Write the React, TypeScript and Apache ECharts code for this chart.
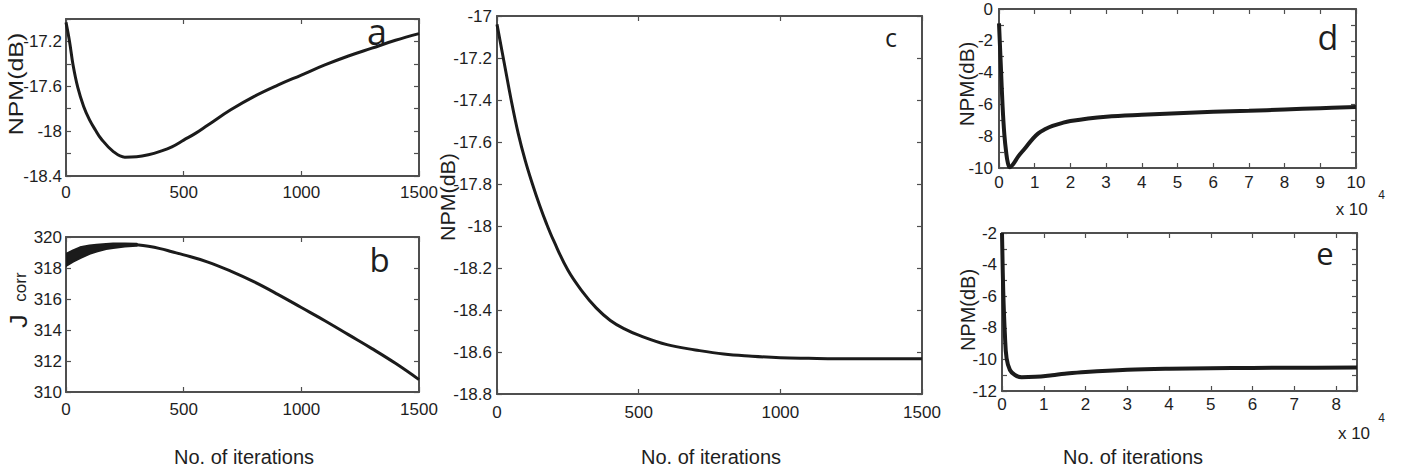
import React, { useEffect, useRef } from 'react';
import * as echarts from 'echarts';

// ---------- data ----------
// panel a : NPM(dB) vs iterations
const aX = [0, 15, 30, 50, 75, 100, 125, 150, 200, 250, 300, 350, 400, 450, 500, 550, 600, 700, 800, 900, 1000, 1100, 1200, 1300, 1400, 1500];
const aY = [-17.03, -17.2, -17.41, -17.61, -17.78, -17.9, -17.99, -18.07, -18.18, -18.232, -18.228, -18.21, -18.18, -18.14, -18.08, -18.02, -17.95, -17.81, -17.69, -17.59, -17.5, -17.41, -17.33, -17.26, -17.19, -17.13];

// panel b : J_corr vs iterations (oscillating band at the start, then a single line)
const bBandX = [0, 30, 60, 100, 130, 170, 200, 250, 300];
const bBandLow = [318.15, 318.42, 318.66, 318.93, 319.08, 319.24, 319.31, 319.4, 319.45];
const bBandHigh = [318.9, 319.12, 319.32, 319.43, 319.49, 319.54, 319.56, 319.57, 319.55];
const bX = [300, 350, 400, 450, 500, 600, 700, 800, 900, 1000, 1100, 1200, 1300, 1400, 1500];
const bY = [319.5, 319.4, 319.25, 319.05, 318.85, 318.4, 317.8, 317.1, 316.3, 315.45, 314.6, 313.7, 312.8, 311.85, 310.8];

// panel c : NPM(dB) vs iterations
const cX = [0, 25, 50, 75, 100, 125, 150, 175, 200, 250, 300, 350, 400, 450, 500, 600, 700, 800, 900, 1000, 1100, 1200, 1500];
const cY = [-17.04, -17.22, -17.4, -17.56, -17.69, -17.8, -17.9, -17.99, -18.07, -18.21, -18.31, -18.39, -18.45, -18.49, -18.52, -18.565, -18.59, -18.61, -18.62, -18.627, -18.63, -18.632, -18.632];

// panel d : NPM(dB) vs iterations (x 10^4)
const dX = [0, 0.05, 0.1, 0.15, 0.2, 0.25, 0.3, 0.4, 0.54, 0.73, 0.92, 1.1, 1.3, 1.5, 1.8, 2.0, 2.5, 3, 4, 5, 6, 7, 8, 9, 10];
const dY = [-0.9, -3.5, -6.1, -7.9, -9.0, -9.7, -9.95, -9.75, -9.27, -8.76, -8.23, -7.82, -7.55, -7.35, -7.15, -7.05, -6.88, -6.77, -6.65, -6.55, -6.47, -6.4, -6.32, -6.24, -6.16];

// panel e : NPM(dB) vs iterations (x 10^4)
const eX = [0, 0.03, 0.07, 0.11, 0.19, 0.31, 0.47, 0.8, 1.2, 1.5, 2, 3, 4, 5, 6, 7, 8.5];
const eY = [-2.0, -5.7, -8.45, -9.93, -10.67, -10.99, -11.13, -11.1, -11.0, -10.91, -10.8, -10.66, -10.59, -10.56, -10.54, -10.53, -10.52];

const panelLetters = ['a', 'b', 'c', 'd', 'e'];
const xName = 'No. of iterations';
const yNameNPM = 'NPM(dB)';

// ---------- styling ----------
const FRAME = '#4f4f4f';
const TXT = '#1e1e1e';
const LINE = '#1b1b1b';
const SANS = '"Liberation Sans", Arial, sans-serif';
const LETTER = '"Open Sans", "Noto Sans", sans-serif';

const pairs = (xs: number[], ys: number[]) => xs.map((x, i) => [x, ys[i]]);

function fmt(step: number, min: number, interval: number) {
  return (v: number) => {
    const r = (v - min) / interval;
    const k = Math.round(r);
    if (Math.abs(r - k) > 1e-6) return '';
    if (k % step !== 0) return '';
    return String(parseFloat(v.toFixed(3)));
  };
}

function axisPair(kind: 'x' | 'y', gi: number, min: number, max: number, interval: number, step: number, margin: number) {
  const common: any = {
    type: 'value',
    gridIndex: gi,
    min,
    max,
    interval,
    splitLine: { show: false },
    axisLine: { show: true, onZero: false, lineStyle: { color: FRAME, width: 2 } },
    axisTick: { show: true, inside: true, length: 5, lineStyle: { color: FRAME, width: 1.2 } },
  };
  const main = {
    ...common,
    position: kind === 'x' ? 'bottom' : 'left',
    axisLabel: {
      show: true,
      margin,
      color: TXT,
      fontFamily: SANS,
      fontSize: 17,
      formatter: fmt(step, min, interval),
    },
  };
  const mirror = { ...common, position: kind === 'x' ? 'top' : 'right', axisLabel: { show: false } };
  return [main, mirror];
}

const lineSeries = (gi: number, data: number[][], width: number) => ({
  type: 'line',
  xAxisIndex: gi * 2,
  yAxisIndex: gi * 2,
  data,
  showSymbol: false,
  symbol: 'none',
  smooth: 0.4,
  lineStyle: { color: LINE, width },
  silent: true,
});

function vText(text: string, x: number, y: number, size: number, scale: number, family = SANS) {
  return {
    type: 'text',
    x,
    y,
    rotation: Math.PI / 2,
    scaleX: scale,
    style: { text, font: `${size}px ${family}`, fill: TXT, textAlign: 'center', textVerticalAlign: 'middle' },
  };
}
function hText(text: string, x: number, y: number, size: number, family = SANS) {
  return {
    type: 'text',
    x,
    y,
    style: { text, font: `${size}px ${family}`, fill: TXT, textAlign: 'center', textVerticalAlign: 'middle' },
  };
}

export default function App() {
  const ref = useRef<HTMLDivElement>(null);
  useEffect(() => {
    if (!ref.current) return;
    const chart = echarts.init(ref.current, undefined, { renderer: 'svg' });

    const grids = [
      { left: 66, top: 19, width: 353, height: 157 },
      { left: 66, top: 237, width: 353, height: 155 },
      { left: 497, top: 16, width: 425, height: 378 },
      { left: 999, top: 9, width: 357, height: 159 },
      { left: 1002, top: 233, width: 355, height: 158 },
    ];

    const xAxes = [
      ...axisPair('x', 0, 0, 1500, 500, 1, 8),
      ...axisPair('x', 1, 0, 1500, 500, 1, 9),
      ...axisPair('x', 2, 0, 1500, 500, 1, 10),
      ...axisPair('x', 3, 0, 10, 1, 1, 6),
      ...axisPair('x', 4, 0, 8.5, 1, 1, 5),
    ];
    const yAxes = [
      ...axisPair('y', 0, -18.4, -17.0, 0.2, 2, 4),
      ...axisPair('y', 1, 310, 320, 2, 1, 4),
      ...axisPair('y', 2, -18.8, -17.0, 0.2, 1, 5),
      ...axisPair('y', 3, -10, 0, 1, 2, 6),
      ...axisPair('y', 4, -12, -2, 1, 2, 5),
    ];

    const series: any[] = [
      lineSeries(0, pairs(aX, aY), 3),
      {
        // oscillation envelope of panel b, drawn as a filled polygon through the axis scales
        type: 'custom',
        xAxisIndex: 2,
        yAxisIndex: 2,
        clip: true,
        silent: true,
        data: [[bBandX[0], bBandLow[0]]],
        renderItem: (_params: any, api: any) => {
          const top = bBandX.map((x, i) => api.coord([x, bBandHigh[i]]));
          const bot = bBandX.map((x, i) => api.coord([x, bBandLow[i]])).reverse();
          return {
            type: 'polygon',
            shape: { points: top.concat(bot) },
            style: { fill: LINE, stroke: LINE, lineWidth: 2.5, lineJoin: 'round' },
          };
        },
      },
      lineSeries(1, pairs(bX, bY), 3),
      lineSeries(2, pairs(cX, cY), 3),
      lineSeries(3, pairs(dX, dY), 4),
      lineSeries(4, pairs(eX, eY), 4),
    ];

    const graphic: any[] = [
      // y-axis names
      vText(yNameNPM, 16, 84, 20, 1.25),
      vText('J', 18.5, 321, 24, 1.15),
      vText('corr', 20, 287, 17, 1.0),
      vText(yNameNPM, 447.5, 197, 20, 1.07),
      vText(yNameNPM, 967.5, 84, 20, 1.03),
      vText(yNameNPM, 967.5, 310, 20, 1.0),
      // x-axis names
      hText(xName, 244, 457, 20),
      hText(xName, 711, 457, 20),
      hText(xName, 1133, 457, 20),
      // x 10^4 multipliers
      hText('x 10', 1351.7, 209, 17),
      hText('4', 1381.7, 195, 12),
      hText('x 10', 1354, 433.5, 17),
      hText('4', 1381.7, 417.5, 12),
      // panel letters
      hText(panelLetters[0], 377, 31, 36, LETTER),
      hText(panelLetters[1], 379.5, 259, 33, LETTER),
      hText(panelLetters[2], 891, 37, 25, LETTER),
      hText(panelLetters[3], 1328, 37, 34, LETTER),
      hText(panelLetters[4], 1325, 253, 31, LETTER),
    ];

    chart.setOption({
      animation: false,
      backgroundColor: '#ffffff',
      grid: grids,
      xAxis: xAxes,
      yAxis: yAxes,
      series,
      graphic,
    });
    return () => chart.dispose();
  }, []);

  return (
    <div
      ref={ref}
      style={{ position: 'fixed', left: 0, top: 0, width: 1416, height: 474, background: '#fff' }}
    />
  );
}
